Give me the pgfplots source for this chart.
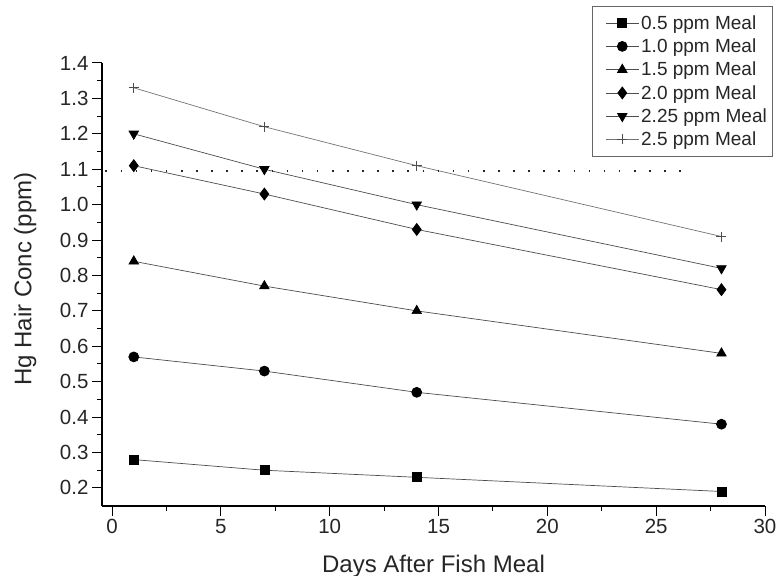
\documentclass[border=0pt]{standalone}
\usepackage{pgfplots}
\pgfplotsset{compat=1.18}
\usepackage{fontspec}
\setmainfont{Liberation Sans}
\begin{document}
\begin{tikzpicture}
\useasboundingbox (-102pt,-70pt) rectangle (678pt,506pt);
\begin{axis}[
  at={(0pt,0pt)}, anchor=south west,
  scale only axis,
  width=663pt, height=443pt,
  xmin=-0.46, xmax=30, ymin=0.149, ymax=1.4,
  axis x line*=bottom, axis y line*=left,
  xtick={0,5,...,30}, ytick={0.2,0.3,...,1.41},
  minor x tick num=1, minor y tick num=1,
  tick align=outside,
  major tick length=10pt, minor tick length=5pt,
  tick style={black, line width=1pt},
  axis line style={line width=1.3pt},
  /pgf/number format/assume math mode=true,
  yticklabel style={/pgf/number format/fixed, /pgf/number format/fixed zerofill, /pgf/number format/precision=1},
  ticklabel style={font=\fontsize{20.5}{22}\selectfont, text=black!85},
  xlabel={Days After Fish Meal}, ylabel={Hg Hair Conc (ppm)},
  label style={font=\fontsize{24}{26}\selectfont, text=black!85},
  xlabel style={at={(axis description cs:0.5,-0.149)}, anchor=base},
  ylabel style={at={(axis description cs:-0.116,0.512)}, anchor=center},
  clip=false,
  legend style={at={(axis description cs:0.739,1.1287)}, anchor=north west, font=\fontsize{19}{21}\selectfont, draw=black!60, line width=1pt, row sep=4pt, inner xsep=4pt, inner ysep=7pt, text=black!85},
  legend cell align=left,
  legend image code/.code={\path (0pt,0pt); \draw[mark repeat=2,mark phase=2] plot coordinates {(9pt,0pt) (25.5pt,0pt) (42pt,0pt)};},
  every axis plot/.append style={line width=0.7pt},
]
\addplot[black!70, mark=square*, mark options={black, mark size=4.5pt}] coordinates {(1,0.28)(7,0.25)(14,0.23)(28,0.19)};
\addlegendentry{0.5 ppm Meal}
\addplot[black!70, mark=*, mark options={black, mark size=5pt}] coordinates {(1,0.57)(7,0.53)(14,0.47)(28,0.38)};
\addlegendentry{1.0 ppm Meal}
\addplot[black!70, mark=triangle*, mark options={black, mark size=5.5pt}] coordinates {(1,0.84)(7,0.77)(14,0.70)(28,0.58)};
\addlegendentry{1.5 ppm Meal}
\addplot[black!70, mark=diamond*, mark options={black, mark size=6pt}] coordinates {(1,1.11)(7,1.03)(14,0.93)(28,0.76)};
\addlegendentry{2.0 ppm Meal}
\addplot[black!70, mark=triangle*, mark options={black, rotate=180, mark size=5.5pt}] coordinates {(1,1.20)(7,1.10)(14,1.00)(28,0.82)};
\addlegendentry{2.25 ppm Meal}
\addplot[black!55, mark=+, mark options={black!70, mark size=5pt, line width=0.8pt}] coordinates {(1,1.33)(7,1.22)(14,1.11)(28,0.91)};
\addlegendentry{2.5 ppm Meal}
\addplot[black!85, line width=2pt, dash pattern=on 1.6pt off 13.5pt, forget plot] coordinates {(-0.3,1.095)(26.6,1.095)};
\end{axis}
\end{tikzpicture}
\end{document}
